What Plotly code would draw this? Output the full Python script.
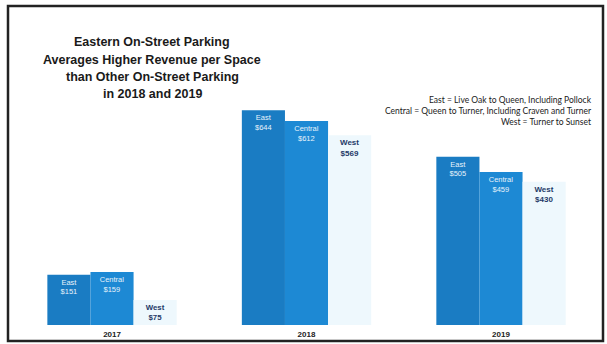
import plotly.graph_objects as go

# Average revenue per on-street parking space, by zone and year
years = ["2017", "2018", "2019"]
zones = ["East", "Central", "West"]
east = [151, 644, 505]
central = [159, 612, 459]
west = [75, 569, 430]

title_lines = [
    "Eastern On-Street Parking",
    "Averages Higher Revenue per Space",
    "than Other On-Street Parking",
    "in 2018 and 2019",
]
zone_notes = [
    "East = Live Oak to Queen, Including Pollock",
    "Central = Queen to Turner, Including Craven and Turner",
    "West = Turner to Sunset",
]

series = [east, central, west]
fills = ["#1a7cc3", "#1d89d4", "#eef8fd"]
label_colors = ["#e8f3fb", "#e8f3fb", "#1f3a68"]

fig = go.Figure()
for name, vals, fill, lc in zip(zones, series, fills, label_colors):
    fig.add_trace(go.Bar(
        name=name,
        x=years,
        y=vals,
        marker=dict(color=fill, line=dict(width=0)),
        text=[f"{name}<br>${v}" for v in vals],
        textposition="inside",
        insidetextanchor="end",
        textangle=0,
        insidetextfont=dict(
            family="Liberation Sans, Arial",
            size=7.5 if name != "West" else 8,
            color=lc,
            weight="bold" if name == "West" else "normal",
        ),
        hoverinfo="skip",
    ))

fig.update_layout(
    width=607,
    height=344,
    margin=dict(l=0, r=0, t=0, b=19),
    paper_bgcolor="white",
    plot_bgcolor="white",
    barmode="group",
    bargap=0.335,
    bargroupgap=0,
    showlegend=False,
    uniformtext=dict(mode=False),
    xaxis=dict(
        type="category",
        range=[-0.576, 2.545],
        showgrid=False,
        zeroline=False,
        showline=False,
        ticks="",
        tickfont=dict(family="Liberation Sans, Arial", size=8, color="#222222",
                      weight="bold"),
        ticklabelstandoff=3,
    ),
    yaxis=dict(
        range=[0, 975],
        visible=False,
        showgrid=False,
        zeroline=False,
    ),
)

# Chart title, one bold line per annotation for tight line spacing
title_centers = [42, 60, 77, 94]
for line, py in zip(title_lines, title_centers):
    fig.add_annotation(
        text=line,
        xref="paper", yref="paper",
        x=152 / 607, y=1 - py / 325,
        xanchor="center", yanchor="middle",
        showarrow=False,
        font=dict(family="Liberation Sans, Arial", size=12.5,
                  color="#1a1a1a", weight="bold"),
    )

# Zone definitions, right-aligned notes
fig.add_annotation(
    text="<br>".join(zone_notes),
    xref="paper", yref="paper",
    x=594 / 607, y=1 - 93 / 325,
    xanchor="right", yanchor="top",
    showarrow=False,
    align="right",
    font=dict(family="Lato, Open Sans, sans-serif", size=8.5, color="#1a1a1a"),
)

# Slide frame
fig.add_shape(
    type="rect",
    xref="paper", yref="paper",
    x0=8 / 607, x1=603 / 607,
    y0=-16 / 325, y1=1 - 6 / 325,
    line=dict(color="#222222", width=2.5),
    fillcolor="rgba(0,0,0,0)",
    layer="above",
)

fig.write_html("out.html")
